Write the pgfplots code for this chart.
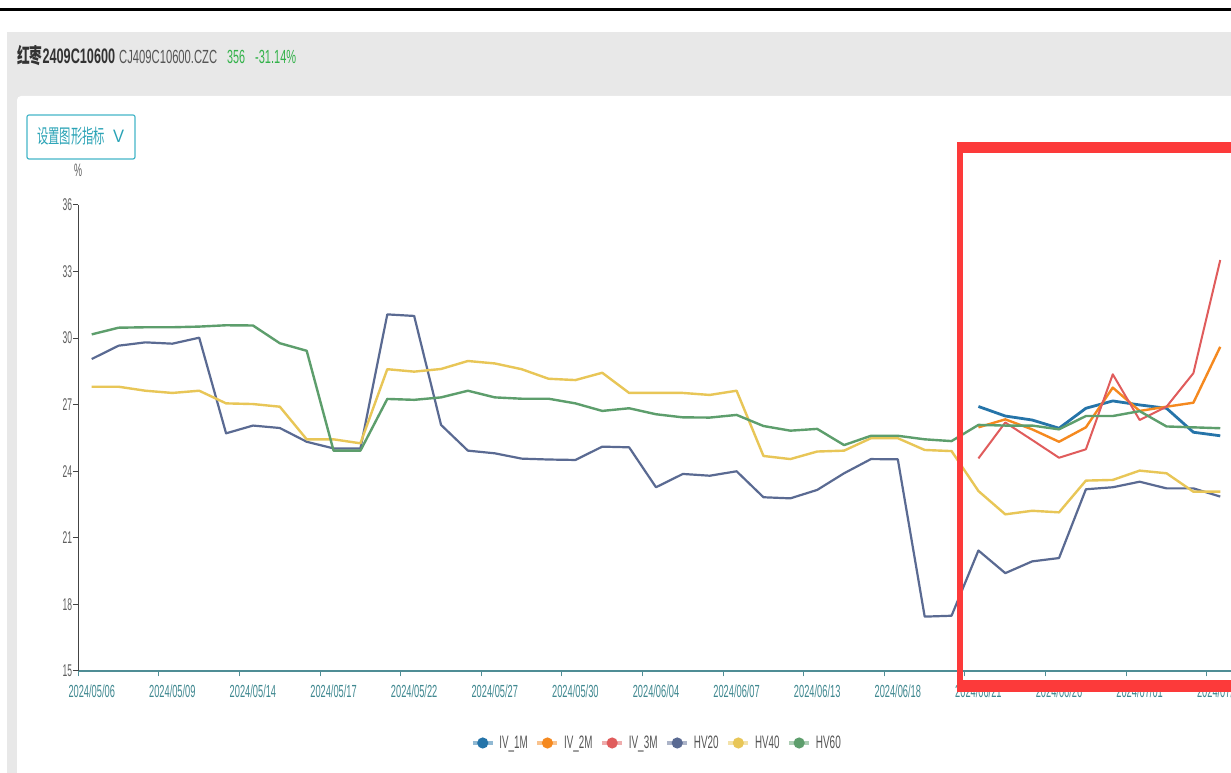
\documentclass[border=0pt]{standalone}
\usepackage{fontspec}
\setmainfont{Liberation Sans}
\newfontfamily\cjk{Noto Sans CJK SC}
\usepackage{graphicx}
\usepackage{pgfplots}
\usepackage{pgfplotstable}
\pgfplotsset{compat=1.18}

\definecolor{ivA}{HTML}{2574A9}
\definecolor{ivB}{HTML}{F5891F}
\definecolor{ivC}{HTML}{E05C5C}
\definecolor{hvA}{HTML}{5A6A92}
\definecolor{hvB}{HTML}{E8C657}
\definecolor{hvC}{HTML}{5D9E6C}
\definecolor{panelgray}{HTML}{E8E8E8}
\definecolor{titlec}{HTML}{333333}
\definecolor{codec}{HTML}{555555}
\definecolor{greenc}{HTML}{33B24A}
\definecolor{btnc}{HTML}{45B6C8}
\definecolor{btntext}{HTML}{2AA3B6}
\definecolor{xaxc}{HTML}{4F8D95}
\definecolor{xlabc}{HTML}{3F8890}
\definecolor{yaxc}{HTML}{444444}
\definecolor{ylabc}{HTML}{5E5E5E}
\definecolor{legc}{HTML}{555555}
\definecolor{boxred}{HTML}{FC3A3A}

\pgfplotstableread{
i hv20 hv40 hv60
0 29.06 27.81 30.17
1 29.66 27.81 30.47
2 29.81 27.63 30.49
3 29.75 27.53 30.49
4 30.02 27.63 30.52
5 25.71 27.06 30.58
6 26.06 27.03 30.57
7 25.95 26.91 29.77
8 25.33 25.44 29.43
9 25.03 25.44 24.93
10 25.03 25.26 24.93
11 31.07 28.60 27.26
12 31.00 28.49 27.22
13 26.09 28.61 27.33
14 24.93 28.97 27.63
15 24.81 28.86 27.33
16 24.57 28.60 27.27
17 24.53 28.17 27.27
18 24.51 28.11 27.06
19 25.11 28.44 26.72
20 25.08 27.53 26.84
21 23.28 27.53 26.57
22 23.88 27.53 26.43
23 23.80 27.44 26.42
24 24.00 27.63 26.54
25 22.83 24.69 26.04
26 22.78 24.55 25.83
27 23.16 24.89 25.91
28 23.91 24.93 25.18
29 24.55 25.49 25.60
30 24.54 25.49 25.60
31 17.45 24.96 25.44
32 17.49 24.91 25.36
33 20.43 23.11 26.09
34 19.41 22.06 26.06
35 19.94 22.22 26.06
36 20.09 22.15 25.89
37 23.19 23.58 26.49
38 23.28 23.61 26.49
39 23.53 24.03 26.71
40 23.23 23.91 26.02
41 23.23 23.08 25.98
42 22.86 23.08 25.94
}\hvdata

\pgfplotstableread{
i iv1 iv2 iv3
33 26.92 25.98 24.58
34 26.49 26.34 26.20
35 26.31 25.89 25.41
36 25.94 25.33 24.61
37 26.84 25.98 24.99
38 27.17 27.77 28.37
39 26.99 26.72 26.31
40 26.84 26.91 26.91
41 25.76 27.09 28.42
42 25.60 29.61 33.52
}\ivdata

\begin{document}
\begin{tikzpicture}[x=1pt,y=1pt]
\useasboundingbox (0,0) rectangle (1231,773);
\clip (0,0) rectangle (1231,773);
\fill[white] (0,0) rectangle (1231,773);
\fill[black] (0,762) rectangle (1231,764.7);
\fill[panelgray] (7,-5) rectangle (1240,741);
\fill[white, rounded corners=4pt] (17,-10) rectangle (1245,677);

% header
\node[anchor=base west, inner sep=0pt, text=titlec] at (17,709)
  {\resizebox{98pt}{\height}{\fontsize{21}{21}\selectfont{\cjk\bfseries 红枣}\bfseries 2409C10600}};
\node[anchor=base west, inner sep=0pt, text=codec] at (119,709)
  {\resizebox{98pt}{\height}{\fontsize{19}{19}\selectfont CJ409C10600.CZC}};
\node[anchor=base west, inner sep=0pt, text=greenc] at (227,709)
  {\resizebox{18pt}{\height}{\fontsize{19}{19}\selectfont 356}};
\node[anchor=base west, inner sep=0pt, text=greenc] at (255,709)
  {\resizebox{41pt}{\height}{\fontsize{19}{19}\selectfont -31.14\%}};

% button
\draw[btnc, line width=1.2pt, rounded corners=2pt] (27,614) rectangle (135,658);
\node[anchor=west, inner sep=0pt, text=btntext] at (37,636.5)
  {\resizebox{68pt}{\height}{\fontsize{19.5}{19.5}\selectfont\cjk 设置图形指标}};
\node[anchor=west, inner sep=0pt, text=btntext] at (113,636.5)
  {\resizebox{11pt}{\height}{\fontsize{18}{18}\selectfont V}};

% unit
\node[inner sep=0pt, text=ylabc] at (78,603)
  {\resizebox{8pt}{\height}{\fontsize{18}{18}\selectfont\%}};

\begin{axis}[
  at={(78.3pt,102pt)}, anchor=south west, scale only axis,
  width=1182.3pt, height=466pt,
  xmin=-0.5, xmax=43.5, ymin=15, ymax=36,
  axis x line*=bottom, axis y line*=left,
  x axis line style={color=xaxc, line width=1.6pt},
  y axis line style={color=yaxc, line width=1.2pt},
  xtick={-0.5,2.5,...,41.5},
  xticklabels={2024/05/06,2024/05/09,2024/05/14,2024/05/17,2024/05/22,2024/05/27,2024/05/30,2024/06/04,2024/06/07,2024/06/13,2024/06/18,2024/06/21,2024/06/26,2024/07/01,2024/07/04},
  ytick={15,18,...,36},
  tick align=outside, major tick length=5.5pt,
  xtick style={color=xaxc, line width=1pt},
  ytick style={color=yaxc, line width=1pt},
  /pgf/number format/assume math mode=true,
  xticklabel style={font=\fontsize{17.5}{17.5}\selectfont, text=xlabc, xshift=13.43pt, xscale=0.53, inner sep=0pt, yshift=-8pt},
  yticklabel style={font=\fontsize{17}{17}\selectfont, text=ylabc, xscale=0.5, inner sep=1pt},
  no markers, line join=round,
  legend columns=6,
  legend style={at={(0.4886,-0.1545)}, anchor=center, draw=none, fill=none,
    font=\fontsize{18}{18}\selectfont, text=legc, column sep=0pt,
    nodes={inner sep=0pt},
    /tikz/every odd column/.append style={column sep=5pt},
    /tikz/every even column/.append style={column sep=8pt}},
  legend image code/.code={\draw[#1, line width=3.4pt, draw opacity=0.5] (0pt,0pt) -- (20pt,0pt);
    \fill[#1, draw=none] (10pt,0pt) circle (5.6pt);},
]
\addplot[color=ivA, line width=2.8pt] table[x=i,y=iv1]{\ivdata};
\addlegendentry{\resizebox{28.3pt}{\height}{IV\_1M}}
\addplot[color=ivB, line width=2.4pt] table[x=i,y=iv2]{\ivdata};
\addlegendentry{\resizebox{28.3pt}{\height}{IV\_2M}}
\addplot[color=ivC, line width=2pt] table[x=i,y=iv3]{\ivdata};
\addlegendentry{\resizebox{28.7pt}{\height}{IV\_3M}}
\addplot[color=hvA, line width=2.2pt] table[x=i,y=hv20]{\hvdata};
\addlegendentry{\resizebox{24.7pt}{\height}{HV20}}
\addplot[color=hvB, line width=2.4pt] table[x=i,y=hv40]{\hvdata};
\addlegendentry{\resizebox{24.4pt}{\height}{HV40}}
\addplot[color=hvC, line width=2.4pt] table[x=i,y=hv60]{\hvdata};
\addlegendentry{\resizebox{25pt}{\height}{HV60}}
\end{axis}

% highlight box
\fill[boxred] (957.3,81.3) rectangle (1240,93);
\fill[boxred] (957.3,619.7) rectangle (1240,630.7);
\fill[boxred] (957.3,81.3) rectangle (963.3,630.7);
\end{tikzpicture}
\end{document}
